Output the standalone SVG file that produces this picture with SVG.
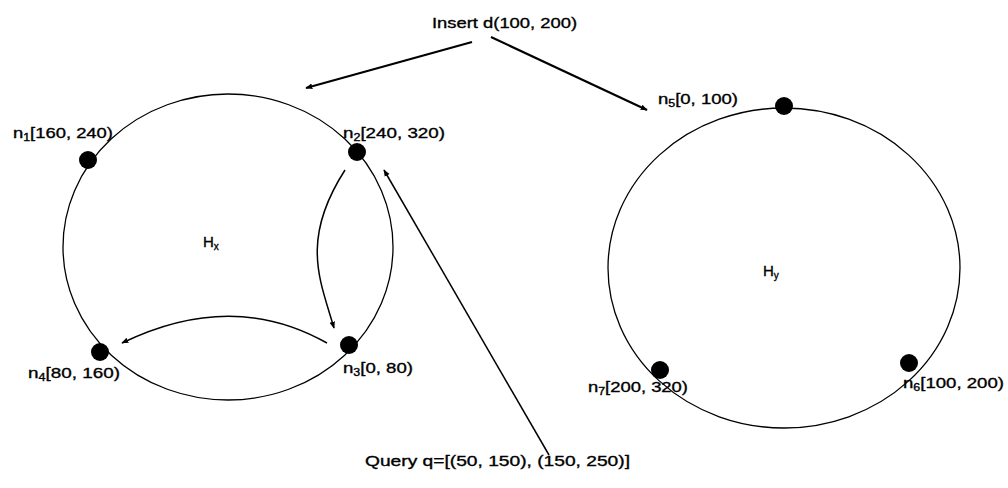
<svg xmlns="http://www.w3.org/2000/svg" width="1008" height="488" viewBox="0 0 1008 488">
<defs>
<marker id="ah" viewBox="0 0 10 10" refX="9" refY="5" markerWidth="7" markerHeight="7" markerUnits="userSpaceOnUse" orient="auto">
<path d="M0,1 L10,5 L0,9 Z" fill="#000"/>
</marker>
<style>
.ring{fill:none;stroke:#000;stroke-width:1.3}
.dot{fill:#000}
.lbl{font-family:"Liberation Sans",Arial,sans-serif;font-size:15px;fill:#000;stroke:#000;stroke-width:0.35}
.sub{font-size:10px}
.con{fill:none;stroke:#000;stroke-width:1.5;marker-end:url(#ah)}
.bold{stroke-width:2.2}
</style>
</defs>
<rect width="1008" height="488" fill="#fff"/>
<g id="Hx">
<ellipse class="ring" cx="228" cy="247" rx="165" ry="153"/>
<text class="lbl" x="203" y="247">H<tspan class="sub" dy="3">x</tspan></text>
</g>
<g id="Hy">
<ellipse class="ring" cx="784" cy="268" rx="176" ry="160"/>
<text class="lbl" x="763" y="276">H<tspan class="sub" dy="3">y</tspan></text>
</g>
<g id="n1">
<circle class="dot" cx="88" cy="160" r="9"/>
<text class="lbl" x="13" y="138" textLength="100" lengthAdjust="spacingAndGlyphs">n<tspan class="sub" dy="3">1</tspan><tspan dy="-3">[160, 240)</tspan></text>
</g>
<g id="n2">
<circle class="dot" cx="357" cy="152" r="9"/>
<text class="lbl" x="343" y="138" textLength="102" lengthAdjust="spacingAndGlyphs">n<tspan class="sub" dy="3">2</tspan><tspan dy="-3">[240, 320)</tspan></text>
</g>
<g id="n3">
<circle class="dot" cx="349" cy="345" r="9"/>
<text class="lbl" x="343" y="373" textLength="70" lengthAdjust="spacingAndGlyphs">n<tspan class="sub" dy="3">3</tspan><tspan dy="-3">[0, 80)</tspan></text>
</g>
<g id="n4">
<circle class="dot" cx="100" cy="352" r="9"/>
<text class="lbl" x="28" y="378" textLength="92" lengthAdjust="spacingAndGlyphs">n<tspan class="sub" dy="3">4</tspan><tspan dy="-3">[80, 160)</tspan></text>
</g>
<g id="n5">
<circle class="dot" cx="784" cy="106" r="9"/>
<text class="lbl" x="658" y="104" textLength="80" lengthAdjust="spacingAndGlyphs">n<tspan class="sub" dy="3">5</tspan><tspan dy="-3">[0, 100)</tspan></text>
</g>
<g id="n6">
<circle class="dot" cx="909" cy="363" r="9"/>
<text class="lbl" x="903" y="388" textLength="101" lengthAdjust="spacingAndGlyphs">n<tspan class="sub" dy="3">6</tspan><tspan dy="-3">[100, 200)</tspan></text>
</g>
<g id="n7">
<circle class="dot" cx="660" cy="370" r="9"/>
<text class="lbl" x="588" y="392" textLength="100" lengthAdjust="spacingAndGlyphs">n<tspan class="sub" dy="3">7</tspan><tspan dy="-3">[200, 320)</tspan></text>
</g>
<g id="insert">
<text class="lbl" x="432" y="28" textLength="145" lengthAdjust="spacingAndGlyphs">Insert d(100, 200)</text>
</g>
<g id="query">
<text class="lbl" x="365" y="466" textLength="265" lengthAdjust="spacingAndGlyphs">Query q=[(50, 150), (150, 250)]</text>
</g>
<g id="connectors">
<path class="con bold" d="M472,42 L306,88"/>
<path class="con bold" d="M491,37 L647,110"/>
<path class="con" d="M345,170 C300,240 320,280 334,328"/>
<path class="con" d="M327,343 C260,305 190,310 122,343"/>
<path class="con" d="M549,455 L384,170"/>
</g>
</svg>
